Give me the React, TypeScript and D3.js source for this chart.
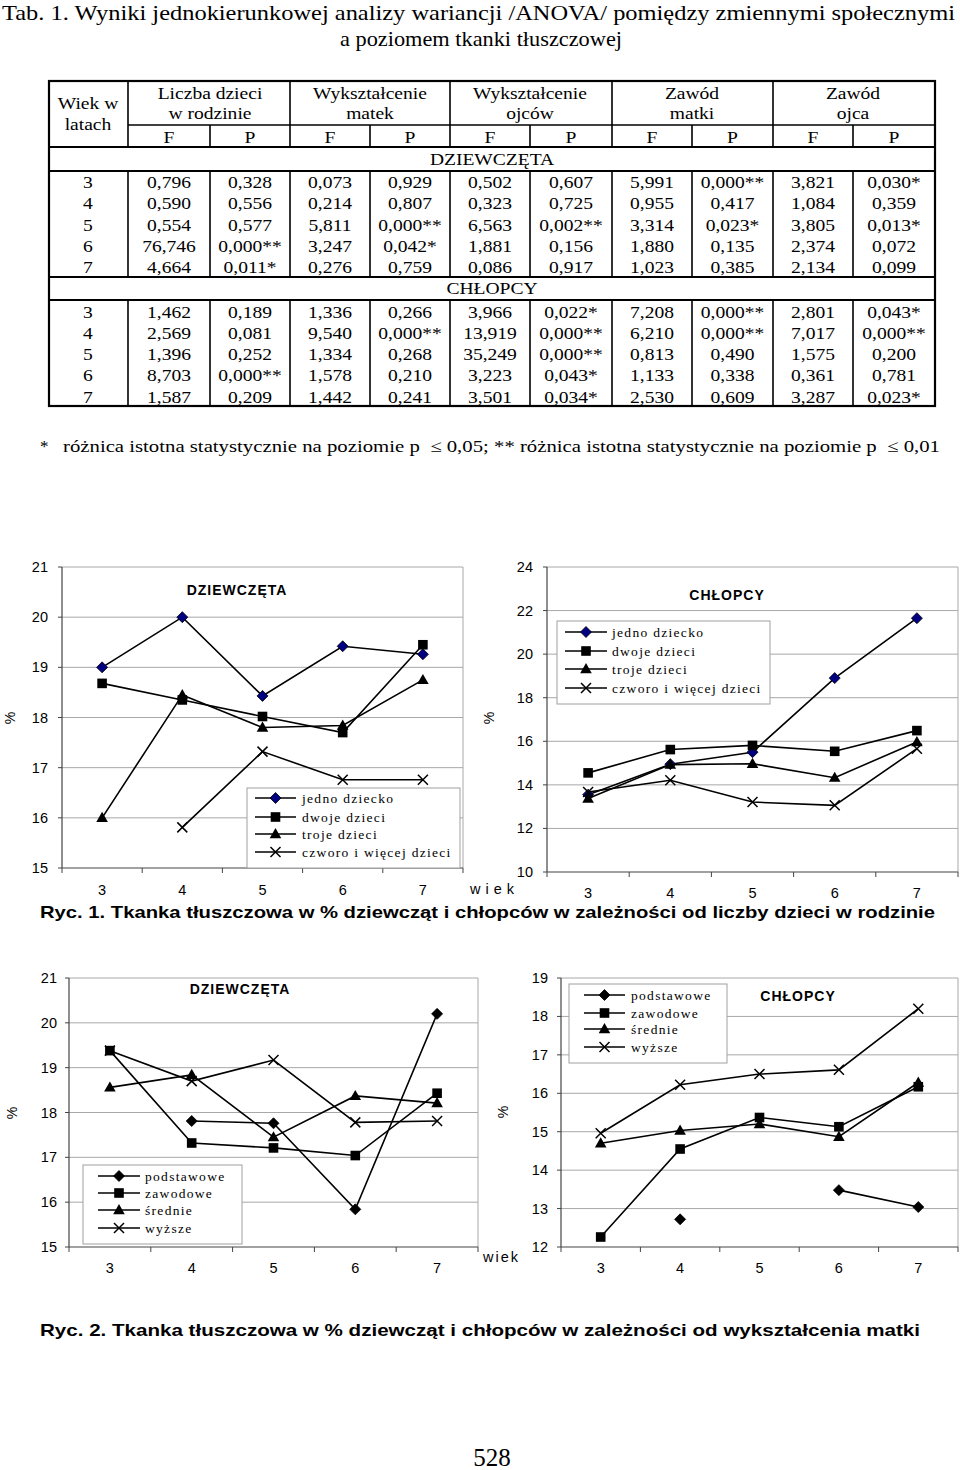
import * as d3 from 'd3';

// ---------- data ----------
const ages = [3, 4, 5, 6, 7];

// Tab. 1 – ANOVA (F, P per variable)
const tableGroups = [
  ['Liczba dzieci', 'w rodzinie'],
  ['Wykształcenie', 'matek'],
  ['Wykształcenie', 'ojców'],
  ['Zawód', 'matki'],
  ['Zawód', 'ojca'],
];
const girlsTable = [
  ['0,796', '0,328', '0,073', '0,929', '0,502', '0,607', '5,991', '0,000**', '3,821', '0,030*'],
  ['0,590', '0,556', '0,214', '0,807', '0,323', '0,725', '0,955', '0,417', '1,084', '0,359'],
  ['0,554', '0,577', '5,811', '0,000**', '6,563', '0,002**', '3,314', '0,023*', '3,805', '0,013*'],
  ['76,746', '0,000**', '3,247', '0,042*', '1,881', '0,156', '1,880', '0,135', '2,374', '0,072'],
  ['4,664', '0,011*', '0,276', '0,759', '0,086', '0,917', '1,023', '0,385', '2,134', '0,099'],
];
const boysTable = [
  ['1,462', '0,189', '1,336', '0,266', '3,966', '0,022*', '7,208', '0,000**', '2,801', '0,043*'],
  ['2,569', '0,081', '9,540', '0,000**', '13,919', '0,000**', '6,210', '0,000**', '7,017', '0,000**'],
  ['1,396', '0,252', '1,334', '0,268', '35,249', '0,000**', '0,813', '0,490', '1,575', '0,200'],
  ['8,703', '0,000**', '1,578', '0,210', '3,223', '0,043*', '1,133', '0,338', '0,361', '0,781'],
  ['1,587', '0,209', '1,442', '0,241', '3,501', '0,034*', '2,530', '0,609', '3,287', '0,023*'],
];

// Ryc. 1 – liczba dzieci w rodzinie
const kidsLabels = ['jedno dziecko', 'dwoje dzieci', 'troje dzieci', 'czworo i więcej dzieci'];
const girlsOneChild = [19.0, 20.0, 18.43, 19.42, 19.26];
const girlsTwoChildren = [18.68, 18.35, 18.02, 17.7, 19.45];
const girlsThreeChildren = [16.0, 18.45, 17.8, 17.84, 18.75];
const girlsFourPlus = [null, 15.81, 17.32, 16.76, 16.76];
const boysOneChild = [13.55, 14.95, 15.5, 18.9, 21.65];
const boysTwoChildren = [14.55, 15.62, 15.81, 15.54, 16.49];
const boysThreeChildren = [13.37, 14.93, 14.97, 14.33, 15.97];
const boysFourPlus = [13.67, 14.21, 13.21, 13.06, 15.66];

// Ryc. 2 – wykształcenie matki
const eduLabels = ['podstawowe', 'zawodowe', 'średnie', 'wyższe'];
const girlsPrimary = [null, 17.81, 17.76, 15.84, 20.2];
const girlsVocational = [19.38, 17.32, 17.21, 17.04, 18.43];
const girlsSecondary = [18.56, 18.84, 17.45, 18.37, 18.21];
const girlsHigher = [19.38, 18.7, 19.17, 17.78, 17.81];
const boysPrimary = [null, 12.72, null, 13.48, 13.04];
const boysVocational = [12.26, 14.55, 15.37, 15.13, 16.17];
const boysSecondary = [14.7, 15.03, 15.2, 14.87, 16.28];
const boysHigher = [14.96, 16.22, 16.5, 16.61, 18.2];

const symbols = ['diamond', 'square', 'triangle', 'cross'];

// ---------- helpers ----------
const SERIF = 'Liberation Serif, Times New Roman, serif';
const SANS = 'Liberation Sans, Arial, sans-serif';

function Marker({ type, x, y, fill }: { type: string; x: number; y: number; fill: string }) {
  if (type === 'diamond')
    return <path d={`M${x},${y - 5.5}L${x + 5.5},${y}L${x},${y + 5.5}L${x - 5.5},${y}Z`} fill={fill} stroke="#000" strokeWidth={0.8} />;
  if (type === 'square') return <rect x={x - 4.8} y={y - 4.8} width={9.6} height={9.6} fill="#000" />;
  if (type === 'triangle') return <path d={`M${x},${y - 6}L${x + 5.8},${y + 4.2}L${x - 5.8},${y + 4.2}Z`} fill="#000" />;
  return (
    <path d={`M${x - 5},${y - 5}L${x + 5},${y + 5}M${x + 5},${y - 5}L${x - 5},${y + 5}`} stroke="#000" strokeWidth={1.5} fill="none" />
  );
}

interface ChartCfg {
  left: number; right: number; top: number; bottom: number;
  domain: [number, number]; step: number; labelY: number; labelGap: number;
  title: string; titleX: number; titleY: number;
  legend: { x: number; y: number; w: number; h: number; rows: number[]; l0: number; l1: number; tx: number };
  pctX: number; pctY: number;
}

function LineChart({ cfg, labels, series, diamondFill }: { cfg: ChartCfg; labels: string[]; series: (number | null)[][]; diamondFill: string }) {
  const x = d3.scaleBand<number>().domain(ages).range([cfg.left, cfg.right]);
  const cx = (a: number) => x(a)! + x.bandwidth() / 2;
  const y = d3.scaleLinear().domain(cfg.domain).range([cfg.bottom, cfg.top]);
  const ticks = d3.range(cfg.domain[0], cfg.domain[1] + 0.001, cfg.step);
  const line = d3
    .line<[number, number | null]>()
    .defined((d) => d[1] != null)
    .x((d) => cx(d[0]))
    .y((d) => y(d[1] as number));
  const edges = [...ages.map((a) => x(a)!), cfg.right];
  const lg = cfg.legend;

  return (
    <g>
      {ticks.slice(1).map((t) => (
        <line key={t} x1={cfg.left} x2={cfg.right} y1={y(t)} y2={y(t)} stroke="#a8a8a8" strokeWidth={1} />
      ))}
      <line x1={cfg.right} x2={cfg.right} y1={cfg.top} y2={cfg.bottom} stroke="#a8a8a8" strokeWidth={1} />
      <line x1={cfg.left} x2={cfg.left} y1={cfg.top} y2={cfg.bottom} stroke="#444" strokeWidth={1.2} />
      <line x1={cfg.left} x2={cfg.right} y1={cfg.bottom} y2={cfg.bottom} stroke="#444" strokeWidth={1.2} />
      {ticks.map((t) => (
        <g key={t}>
          <line x1={cfg.left - 4} x2={cfg.left} y1={y(t)} y2={y(t)} stroke="#444" strokeWidth={1} />
          <text x={cfg.left - cfg.labelGap} y={y(t) + 5} textAnchor="end" fontFamily={SANS} fontSize={14.5}>
            {t}
          </text>
        </g>
      ))}
      {edges.map((e, i) => (
        <line key={i} x1={e} x2={e} y1={cfg.bottom} y2={cfg.bottom + 5} stroke="#444" strokeWidth={1} />
      ))}
      {ages.map((a) => (
        <text key={a} x={cx(a)} y={cfg.labelY + 5} textAnchor="middle" fontFamily={SANS} fontSize={14.5}>
          {a}
        </text>
      ))}
      <text transform={`translate(${cfg.pctX},${cfg.pctY}) rotate(-90)`} textAnchor="middle" fontFamily={SANS} fontSize={14}>
        %
      </text>
      <text x={cfg.titleX} y={cfg.titleY + 5} textAnchor="middle" fontFamily={SANS} fontWeight="bold" fontSize={14} letterSpacing={1}>
        {cfg.title}
      </text>
      {series.map((s, i) => (
        <g key={i}>
          <path d={line(ages.map((a, j) => [a, s[j]] as [number, number | null])) || ''} fill="none" stroke="#000" strokeWidth={1.6} />
          {s.map((v, j) => (v == null ? null : <Marker key={j} type={symbols[i]} x={cx(ages[j])} y={y(v)} fill={diamondFill} />))}
        </g>
      ))}
      <rect x={lg.x} y={lg.y} width={lg.w} height={lg.h} fill="#fff" stroke="#a0a0a0" strokeWidth={1} />
      {labels.map((l, i) => (
        <g key={l}>
          <line x1={lg.l0} x2={lg.l1} y1={lg.rows[i]} y2={lg.rows[i]} stroke="#000" strokeWidth={1.6} />
          <Marker type={symbols[i]} x={(lg.l0 + lg.l1) / 2} y={lg.rows[i]} fill={diamondFill} />
          <text x={lg.tx} y={lg.rows[i] + 4.5} fontFamily={SERIF} fontSize={13.5} letterSpacing={1.3}>
            {l}
          </text>
        </g>
      ))}
    </g>
  );
}

const chartGirls1: ChartCfg = {
  left: 62, right: 463, top: 567, bottom: 868, domain: [15, 21], step: 1, labelY: 890, labelGap: 14,
  title: 'DZIEWCZĘTA', titleX: 237, titleY: 590,
  legend: { x: 247, y: 788, w: 213, h: 80, rows: [798, 817, 834, 852], l0: 255, l1: 296, tx: 302 },
  pctX: 15, pctY: 718,
};
const chartBoys1: ChartCfg = {
  left: 547, right: 958, top: 567, bottom: 872, domain: [10, 24], step: 2, labelY: 893, labelGap: 14,
  title: 'CHŁOPCY', titleX: 727, titleY: 595,
  legend: { x: 557, y: 621, w: 213, h: 83, rows: [632, 651, 669, 688], l0: 565, l1: 607, tx: 612 },
  pctX: 494, pctY: 718,
};
const chartGirls2: ChartCfg = {
  left: 69, right: 478, top: 978, bottom: 1247, domain: [15, 21], step: 1, labelY: 1268, labelGap: 12,
  title: 'DZIEWCZĘTA', titleX: 240, titleY: 989,
  legend: { x: 83, y: 1165, w: 159, h: 79, rows: [1176, 1193, 1210, 1228], l0: 98, l1: 140, tx: 145 },
  pctX: 17, pctY: 1113,
};
const chartBoys2: ChartCfg = {
  left: 561, right: 958, top: 978, bottom: 1247, domain: [12, 19], step: 1, labelY: 1268, labelGap: 13,
  title: 'CHŁOPCY', titleX: 798, titleY: 996,
  legend: { x: 569, y: 984, w: 158, h: 79, rows: [995, 1013, 1029, 1047], l0: 584, l1: 625, tx: 631 },
  pctX: 508, pctY: 1112,
};

// ---------- table ----------
const colEdges = [49, 128, 210, 290, 370, 450, 530, 612, 692, 773, 853, 935];

function Cell({ x, y, children }: { x: number; y: number; children: any }) {
  return (
    <text transform={`translate(${x},${y}) scale(1.15,1)`} textAnchor="middle" fontFamily={SERIF} fontSize={17}>
      {children}
    </text>
  );
}

function Table() {
  const mid = (i: number) => (colEdges[i] + colEdges[i + 1]) / 2;
  const girlsY = d3.range(5).map((i) => 182 + i * 21.3);
  const boysY = d3.range(5).map((i) => 311.5 + i * 21.3);
  const sections: [number, number][] = [[171, 277], [300, 406]];
  return (
    <g>
      <rect x={49} y={81} width={886} height={325} fill="none" stroke="#000" strokeWidth={2.2} />
      <line x1={128} x2={935} y1={125} y2={125} stroke="#000" strokeWidth={1.6} />
      {[147, 171, 277, 300].map((yy) => (
        <line key={yy} x1={49} x2={935} y1={yy} y2={yy} stroke="#000" strokeWidth={2} />
      ))}
      {colEdges.slice(1, -1).map((e, i) => {
        const group = i % 2 === 0;
        return (
          <g key={e}>
            <line x1={e} x2={e} y1={group ? 81 : 125} y2={147} stroke="#000" strokeWidth={1.6} />
            {sections.map(([a, b]) => (
              <line key={a} x1={e} x2={e} y1={a} y2={b} stroke="#000" strokeWidth={1.6} />
            ))}
          </g>
        );
      })}
      <Cell x={88} y={109}>Wiek w</Cell>
      <Cell x={88} y={130}>latach</Cell>
      {tableGroups.map((g, i) => (
        <g key={i}>
          <Cell x={colEdges[1 + i * 2 + 1]} y={99}>{g[0]}</Cell>
          <Cell x={colEdges[1 + i * 2 + 1]} y={119}>{g[1]}</Cell>
          <Cell x={mid(1 + i * 2)} y={142.5}>F</Cell>
          <Cell x={mid(2 + i * 2)} y={142.5}>P</Cell>
        </g>
      ))}
      <Cell x={492} y={165}>DZIEWCZĘTA</Cell>
      <Cell x={492} y={294}>CHŁOPCY</Cell>
      {[
        [girlsTable, girlsY],
        [boysTable, boysY],
      ].map(([rows, ys]: any, s) =>
        (rows as string[][]).map((r, ri) => (
          <g key={`${s}-${ri}`}>
            <Cell x={88} y={ys[ri] + 6}>{ages[ri]}</Cell>
            {r.map((v, ci) => (
              <Cell key={ci} x={mid(ci + 1)} y={ys[ri] + 6}>{v}</Cell>
            ))}
          </g>
        ))
      )}
    </g>
  );
}

export default function App() {
  return (
    <svg width={960} height={1470} style={{ position: 'absolute', left: 0, top: 0, background: '#fff' }}>
      <rect width={960} height={1470} fill="#fff" />
      <text x={2} y={20} fontFamily={SERIF} fontSize={22} textLength={953} lengthAdjust="spacingAndGlyphs">
        Tab. 1. Wyniki jednokierunkowej analizy wariancji /ANOVA/ pomiędzy zmiennymi społecznymi
      </text>
      <text x={340} y={46} fontFamily={SERIF} fontSize={22} textLength={282} lengthAdjust="spacingAndGlyphs">
        a poziomem tkanki tłuszczowej
      </text>
      <Table />
      <text x={40} y={452} fontFamily={SERIF} fontSize={17}>*</text>
      <text x={63} y={452} fontFamily={SERIF} fontSize={17} textLength={877} lengthAdjust="spacingAndGlyphs">
        {'różnica istotna statystycznie na poziomie p \u00a0≤ 0,05; ** różnica istotna statystycznie na poziomie p \u00a0≤ 0,01'}
      </text>

      <LineChart cfg={chartGirls1} labels={kidsLabels} series={[girlsOneChild, girlsTwoChildren, girlsThreeChildren, girlsFourPlus]} diamondFill="#000080" />
      <LineChart cfg={chartBoys1} labels={kidsLabels} series={[boysOneChild, boysTwoChildren, boysThreeChildren, boysFourPlus]} diamondFill="#000080" />
      <text x={470} y={894} fontFamily={SANS} fontSize={14.5} textLength={44} lengthAdjust="spacing">wiek</text>
      <text x={40} y={918} fontFamily={SANS} fontWeight="bold" fontSize={17} textLength={895} lengthAdjust="spacingAndGlyphs">
        Ryc. 1. Tkanka tłuszczowa w % dziewcząt i chłopców w zależności od liczby dzieci w rodzinie
      </text>

      <LineChart cfg={chartGirls2} labels={eduLabels} series={[girlsPrimary, girlsVocational, girlsSecondary, girlsHigher]} diamondFill="#000" />
      <LineChart cfg={chartBoys2} labels={eduLabels} series={[boysPrimary, boysVocational, boysSecondary, boysHigher]} diamondFill="#000" />
      <text x={483} y={1262} fontFamily={SANS} fontSize={14.5} textLength={35} lengthAdjust="spacing">wiek</text>
      <text x={40} y={1336} fontFamily={SANS} fontWeight="bold" fontSize={17} textLength={880} lengthAdjust="spacingAndGlyphs">
        Ryc. 2. Tkanka tłuszczowa w % dziewcząt i chłopców w zależności od wykształcenia matki
      </text>

      <text x={492} y={1466} textAnchor="middle" fontFamily={SERIF} fontSize={25}>528</text>
    </svg>
  );
}
